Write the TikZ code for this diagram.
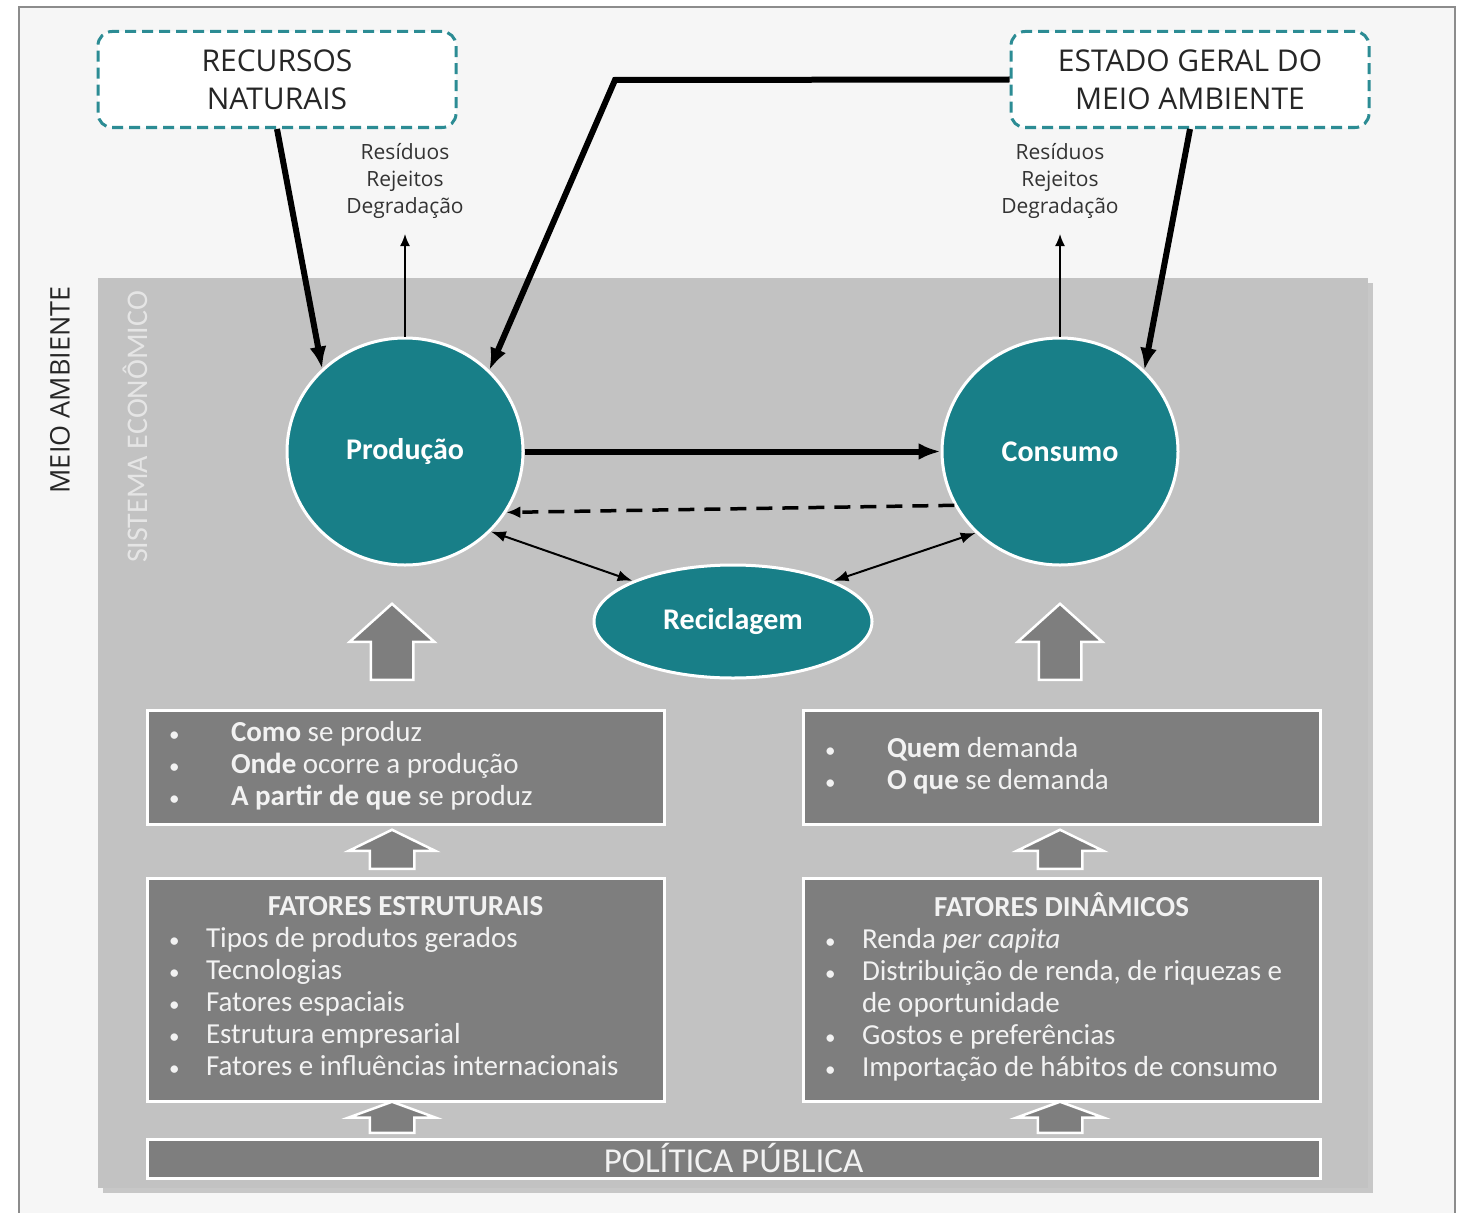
\documentclass[tikz,border=0pt]{standalone}
\usepackage{fontspec}
\setmainfont{Carlito}
\newfontfamily\osans{Open Sans}
\usepackage{tikz}
\usetikzlibrary{arrows.meta,%
                shapes.geometric,%
                shapes.arrows,%
                shadows}

\definecolor{tealfill}{HTML}{187F88}
\definecolor{tealdash}{HTML}{2C8C94}
\definecolor{panelgray}{HTML}{C2C2C2}
\definecolor{boxgray}{HTML}{7E7E7E}
\definecolor{bggray}{HTML}{F6F6F6}
\definecolor{lighttext}{HTML}{F2F2F2}

\newcommand{\bdot}{{\fontsize{21}{21}\selectfont\textbullet}}

\tikzset{
	topbox/.style={draw=tealdash, dash pattern=on 11pt off 6pt, line width=3pt,
		rounded corners=14pt, fill=white, minimum width=358pt, minimum height=96pt,
		align=center, text=black!85, font=\osans\fontsize{30}{38}\selectfont},
	outlabel/.style={align=center, text=black!80, font=\osans\fontsize{21}{27}\selectfont},
	bigcircle/.style={ellipse, fill=tealfill, draw=white, line width=3pt,
		minimum width=236pt, minimum height=227pt, text=white,
		font=\bfseries\fontsize{30}{36}\selectfont},
	recbox/.style={ellipse, fill=tealfill, draw=white, line width=3pt,
		minimum width=278pt, minimum height=113pt, text=white,
		font=\bfseries\fontsize{30}{36}\selectfont},
	graybox/.style={rectangle, fill=boxgray, draw=white, line width=3pt,
		minimum width=517pt, inner xsep=21pt, text=lighttext,
		font=\fontsize{29}{32}\selectfont},
	blockup/.style={single arrow, rotate=90, anchor=tail, fill=boxgray,
		draw=white, line width=2.5pt, inner xsep=0pt, single arrow head extend=21pt},
	heavy/.style={line width=6pt, -{Latex[length=22pt,width=17pt]}},
	thin/.style={line width=1.3pt, -{Latex[length=12pt,width=10pt]}},
	twoway/.style={line width=2pt, {Latex[length=15pt,width=11pt]}-{Latex[length=15pt,width=11pt]}}
}

\begin{document}
\begin{tikzpicture}[x=1pt,y=-1pt]
	\useasboundingbox (0,0) rectangle (1463,1212);

	% frame and economic system panel
	\draw[draw=black!45, line width=2pt, fill=bggray] (19,7) rectangle (1455,1240);
	\node[fill=panelgray, minimum width=1270pt, minimum height=910pt,
		drop shadow={shadow xshift=5pt, shadow yshift=-5pt, fill=black!40}] (se) at (733,733) {};

	\node[rotate=90, text=black!85, font=\osans\fontsize{27}{30}\selectfont] (ma) at (60,390) {MEIO AMBIENTE};
	\node[rotate=90, text=white!90!black, font=\fontsize{30}{34}\selectfont] (sec) at (135,427) {SISTEMA ECONÔMICO};

	\node[topbox] (rn) at (277,79.5) {RECURSOS\\NATURAIS};
	\node[topbox] (ema) at (1190,79.5) {ESTADO GERAL DO\\MEIO AMBIENTE};

	\node[outlabel] (res1) at (405,181) {Resíduos\\Rejeitos\\Degradação};
	\node[outlabel] (res2) at (1060,181) {Resíduos\\Rejeitos\\Degradação};

	\node[bigcircle] (prod) at (405,451.5) {\raisebox{-3pt}{Produção}};
	\node[bigcircle] (cons) at (1060,451.5) {\raisebox{-3pt}{Consumo}};
	\node[recbox] (rec) at (733,621.5) {Reciclagem};

	\coordinate (bend) at (615,80);

	\begin{scope}
		\draw[heavy] (rn.south) -- (prod.135);
		\draw[heavy, line join=miter] (ema.west) -- (bend) -- (prod.44);
		\draw[heavy] (ema.south) -- (cons.44.5);
		\draw[heavy] (prod.east) -- (cons.west);
		\draw[line width=3.5pt, dash pattern=on 16pt off 10pt,
			-{Latex[length=14pt,width=12pt]}] (cons.207) -- (prod.-31);
		\draw[twoway] (prod.-43) -- (rec.158);
		\draw[twoway] (cons.224) -- (rec.22);
		\draw[thin, shorten >=12pt] (prod.north) -- (res1.south);
		\draw[thin, shorten >=12pt] (cons.north) -- (res2.south);
	\end{scope}

	% block arrows
	\node[blockup, minimum height=76pt, inner ysep=20pt, single arrow tip angle=96] (ua1) at (392,681) {};
	\node[blockup, minimum height=76pt, inner ysep=20pt, single arrow tip angle=96] (ua2) at (1060,681) {};
	\node[blockup, minimum height=39pt, inner ysep=21pt, single arrow tip angle=128] (ub1) at (392,870) {};
	\node[blockup, minimum height=39pt, inner ysep=21pt, single arrow tip angle=128] (ub2) at (1060,870) {};
	\node[blockup, minimum height=31pt, inner ysep=21pt, single arrow tip angle=140] (uc1) at (392,1134) {};
	\node[blockup, minimum height=31pt, inner ysep=21pt, single arrow tip angle=140] (uc2) at (1060,1134) {};

	\node[graybox, minimum height=114pt] (como) at (405.5,767) {%
		\begin{tabular}{@{}p{62pt}@{}p{411pt}@{}}
			\bdot & \textbf{Como} se produz\\
			\bdot & \textbf{Onde} ocorre a produção\\
			\bdot & \textbf{A partir de que} se produz
		\end{tabular}};
	\node[graybox, minimum height=114pt] (quem) at (1061.5,767) {%
		\begin{tabular}{@{}p{62pt}@{}p{411pt}@{}}
			\bdot & \textbf{Quem} demanda\\
			\bdot & \textbf{O que} se demanda
		\end{tabular}};
	\node[graybox, minimum height=223pt] (fe) at (405.5,989.5) {%
		\begin{tabular}{@{}p{37pt}@{}p{436pt}@{}}
			\multicolumn{2}{@{}c@{}}{\textbf{FATORES ESTRUTURAIS}}\\
			\bdot & Tipos de produtos gerados\\
			\bdot & Tecnologias\\
			\bdot & Fatores espaciais\\
			\bdot & Estrutura empresarial\\
			\bdot & Fatores e influências internacionais
		\end{tabular}};
	\node[graybox, minimum height=223pt] (fd) at (1061.5,989.5) {%
		\begin{tabular}{@{}p{37pt}@{}p{436pt}@{}}
			\multicolumn{2}{@{}c@{}}{\textbf{FATORES DINÂMICOS}}\\
			\bdot & Renda \textit{per capita}\\
			\bdot & Distribuição de renda, de riquezas e\\
			 & de oportunidade\\
			\bdot & Gostos e preferências\\
			\bdot & Importação de hábitos de consumo
		\end{tabular}};

	\node[graybox, minimum width=1173pt, minimum height=39pt, inner ysep=0pt,
		font=\fontsize{35}{36}\selectfont] (pp) at (733.5,1158.5) {POLÍTICA PÚBLICA};
\end{tikzpicture}
\end{document}
